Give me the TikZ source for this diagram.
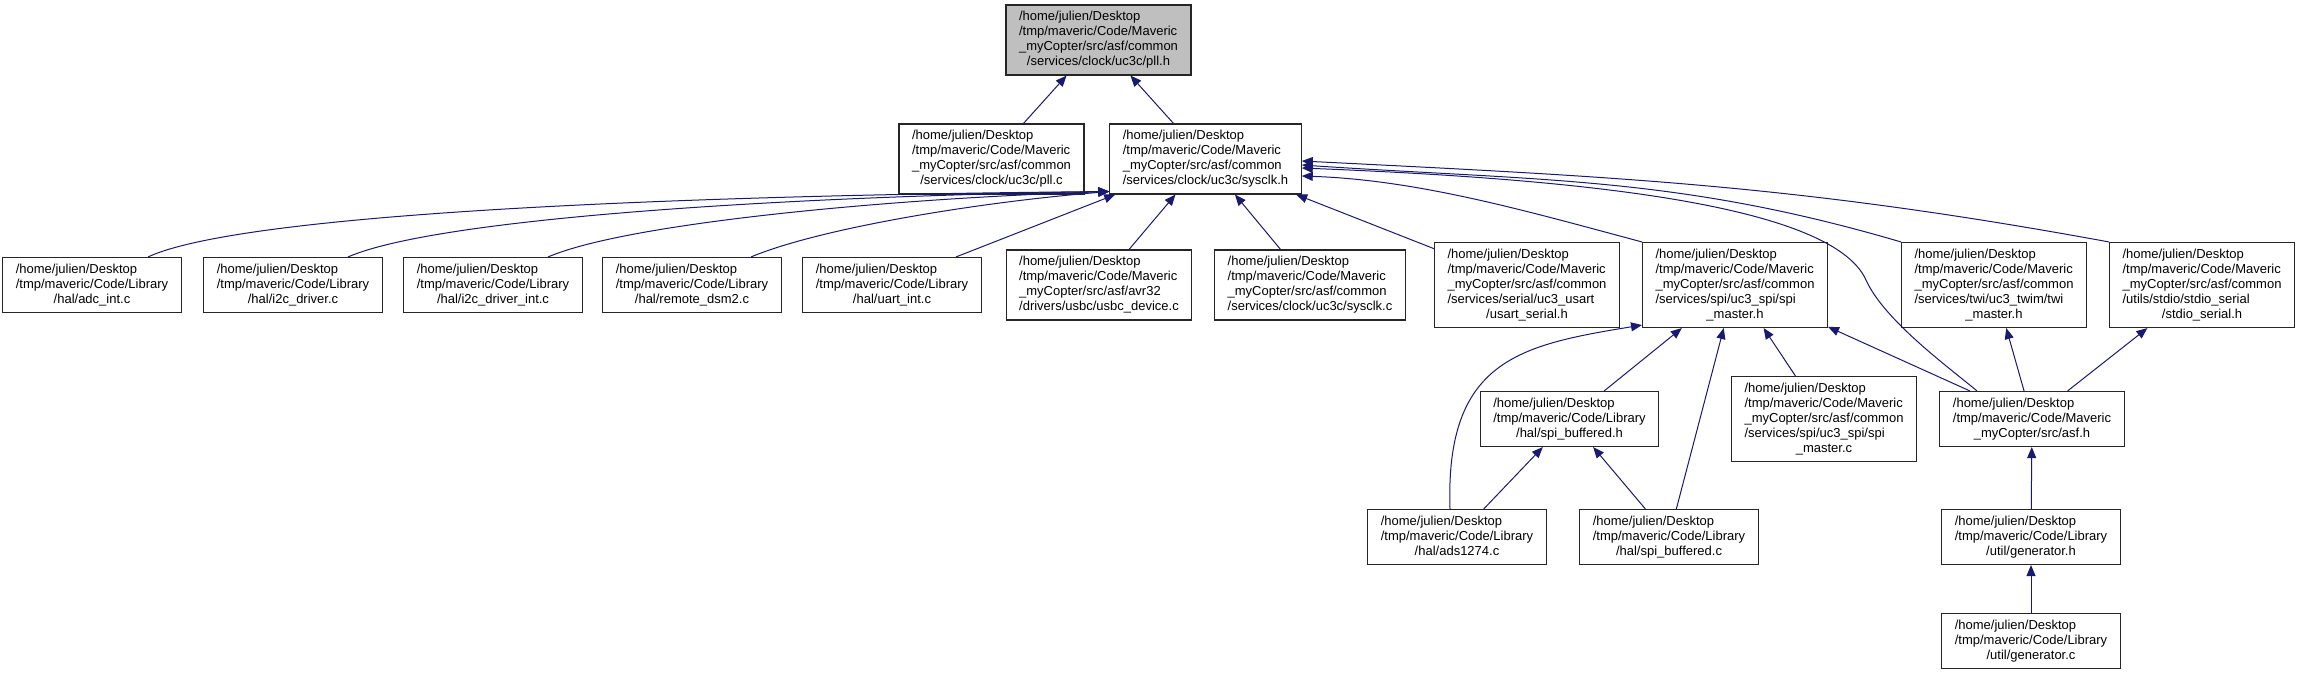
\documentclass[tikz,border=0pt]{standalone}
\usepackage{fontspec}
\setmainfont{Liberation Sans}
\usepackage{xcolor}
\usepackage{tikz}
\usetikzlibrary{arrows.meta}
\definecolor{edgeblue}{RGB}{25,25,112}
\definecolor{rootgray}{RGB}{191,191,191}
% lines left, last line centred
\newcommand{\fpath}[2]{\begin{tabular}{@{}l@{}}#1\\\multicolumn{1}{@{}c@{}}{#2}\end{tabular}}

\begin{document}
\begin{tikzpicture}[x=1pt, y=-1pt,
    hfile/.style={rectangle, draw=black!85, line width=1.1pt, fill=white, inner xsep=13pt, inner ysep=5pt, font=\fontsize{13}{15}\selectfont},
    root/.style={hfile, fill=rootgray},
    inc/.style={-{Triangle[length=11pt,width=9pt]}, edgeblue, line width=1pt}
]
    \useasboundingbox (0,0) rectangle (2299,675);

    \node[root] (pllh) at (1098.5,40) {\fpath{/home/julien/Desktop\\/tmp/maveric/Code/Maveric\\\_myCopter/src/asf/common}{/services/clock/uc3c/pll.h}};
    \node[hfile] (pllc) at (991.5,159) {\fpath{/home/julien/Desktop\\/tmp/maveric/Code/Maveric\\\_myCopter/src/asf/common}{/services/clock/uc3c/pll.c}};
    \node[hfile] (sysh) at (1205.5,159) {\fpath{/home/julien/Desktop\\/tmp/maveric/Code/Maveric\\\_myCopter/src/asf/common}{/services/clock/uc3c/sysclk.h}};

    \node[hfile] (adc) at (92,285) {\fpath{/home/julien/Desktop\\/tmp/maveric/Code/Library}{/hal/adc\_int.c}};
    \node[hfile] (i2c) at (293,285) {\fpath{/home/julien/Desktop\\/tmp/maveric/Code/Library}{/hal/i2c\_driver.c}};
    \node[hfile] (i2ci) at (493,285) {\fpath{/home/julien/Desktop\\/tmp/maveric/Code/Library}{/hal/i2c\_driver\_int.c}};
    \node[hfile] (dsm) at (692,285) {\fpath{/home/julien/Desktop\\/tmp/maveric/Code/Library}{/hal/remote\_dsm2.c}};
    \node[hfile] (uart) at (892,285) {\fpath{/home/julien/Desktop\\/tmp/maveric/Code/Library}{/hal/uart\_int.c}};
    \node[hfile] (usbc) at (1099,285) {\fpath{/home/julien/Desktop\\/tmp/maveric/Code/Maveric\\\_myCopter/src/asf/avr32}{/drivers/usbc/usbc\_device.c}};
    \node[hfile] (sysc) at (1310,285) {\fpath{/home/julien/Desktop\\/tmp/maveric/Code/Maveric\\\_myCopter/src/asf/common}{/services/clock/uc3c/sysclk.c}};
    \node[hfile] (usart) at (1527,285) {\fpath{/home/julien/Desktop\\/tmp/maveric/Code/Maveric\\\_myCopter/src/asf/common\\/services/serial/uc3\_usart}{/usart\_serial.h}};
    \node[hfile] (spih) at (1735,285) {\fpath{/home/julien/Desktop\\/tmp/maveric/Code/Maveric\\\_myCopter/src/asf/common\\/services/spi/uc3\_spi/spi}{\_master.h}};
    \node[hfile] (twi) at (1994,285) {\fpath{/home/julien/Desktop\\/tmp/maveric/Code/Maveric\\\_myCopter/src/asf/common\\/services/twi/uc3\_twim/twi}{\_master.h}};
    \node[hfile] (stdio) at (2202,285) {\fpath{/home/julien/Desktop\\/tmp/maveric/Code/Maveric\\\_myCopter/src/asf/common\\/utils/stdio/stdio\_serial}{/stdio\_serial.h}};

    \node[hfile] (spibh) at (1569.5,419) {\fpath{/home/julien/Desktop\\/tmp/maveric/Code/Library}{/hal/spi\_buffered.h}};
    \node[hfile] (spic) at (1824,419) {\fpath{/home/julien/Desktop\\/tmp/maveric/Code/Maveric\\\_myCopter/src/asf/common\\/services/spi/uc3\_spi/spi}{\_master.c}};
    \node[hfile] (asf) at (2032,419) {\fpath{/home/julien/Desktop\\/tmp/maveric/Code/Maveric}{\_myCopter/src/asf.h}};

    \node[hfile] (ads) at (1457,537) {\fpath{/home/julien/Desktop\\/tmp/maveric/Code/Library}{/hal/ads1274.c}};
    \node[hfile] (spibc) at (1669,537) {\fpath{/home/julien/Desktop\\/tmp/maveric/Code/Library}{/hal/spi\_buffered.c}};
    \node[hfile] (genh) at (2031,537) {\fpath{/home/julien/Desktop\\/tmp/maveric/Code/Library}{/util/generator.h}};
    \node[hfile] (genc) at (2031,641) {\fpath{/home/julien/Desktop\\/tmp/maveric/Code/Library}{/util/generator.c}};

    % includes of pll.h
    \draw[inc] (pllc) -- (pllh);
    \draw[inc] (sysh) -- (pllh);

    % includes of sysclk.h
    \draw[inc] ([xshift=56pt]adc.north) .. controls (245,212) and (700,195) .. ([yshift=3pt]sysh.south west);
    \draw[inc] ([xshift=55pt]i2c.north) .. controls (440,217) and (800,196) .. ([yshift=3pt]sysh.south west);
    \draw[inc] ([xshift=55pt]i2ci.north) .. controls (630,222) and (900,198) .. ([yshift=3pt]sysh.south west);
    \draw[inc] ([xshift=59pt]dsm.north) .. controls (820,228) and (980,202) .. ([yshift=3pt]sysh.south west);
    \draw[inc] ([xshift=64pt]uart.north) -- ([xshift=6pt]sysh.south west);
    \draw[inc] (usbc) -- (sysh);
    \draw[inc] (sysc) -- (sysh);
    \draw[inc] (usart) -- (sysh);
    \draw[inc] (spih.north west) .. controls (1530,212) and (1420,180) .. ([yshift=-17pt]sysh.east);
    \draw[inc] ([xshift=-55pt]asf.north) .. controls (1947,366) and (1884,320) .. (1866,280)
        .. controls (1830,200) and (1550,178) .. ([yshift=-9pt]sysh.east);
    \draw[inc] (twi.north west) .. controls (1677,176) and (1540,181) .. ([yshift=-6pt]sysh.east);
    \draw[inc] (stdio.north west) .. controls (1799,185) and (1621,177) .. ([yshift=-2pt]sysh.east);

    % includes of spi_master.h
    \draw[inc] (spibh) -- (spih);
    \draw[inc] (spibc) -- (spih);
    \draw[inc] (spic) -- (spih);
    \draw[inc] (asf) -- (spih);
    \draw[inc] ([xshift=-7pt]ads.north) .. controls (1445,360) and (1520,345) .. ([yshift=3pt]spih.south west);

    % includes of spi_buffered.h
    \draw[inc] (ads) -- (spibh);
    \draw[inc] (spibc) -- (spibh);

    % asf.h and generator
    \draw[inc] (asf) -- (twi);
    \draw[inc] (asf) -- (stdio);
    \draw[inc] (genh) -- (asf);
    \draw[inc] (genc) -- (genh);
\end{tikzpicture}
\end{document}
